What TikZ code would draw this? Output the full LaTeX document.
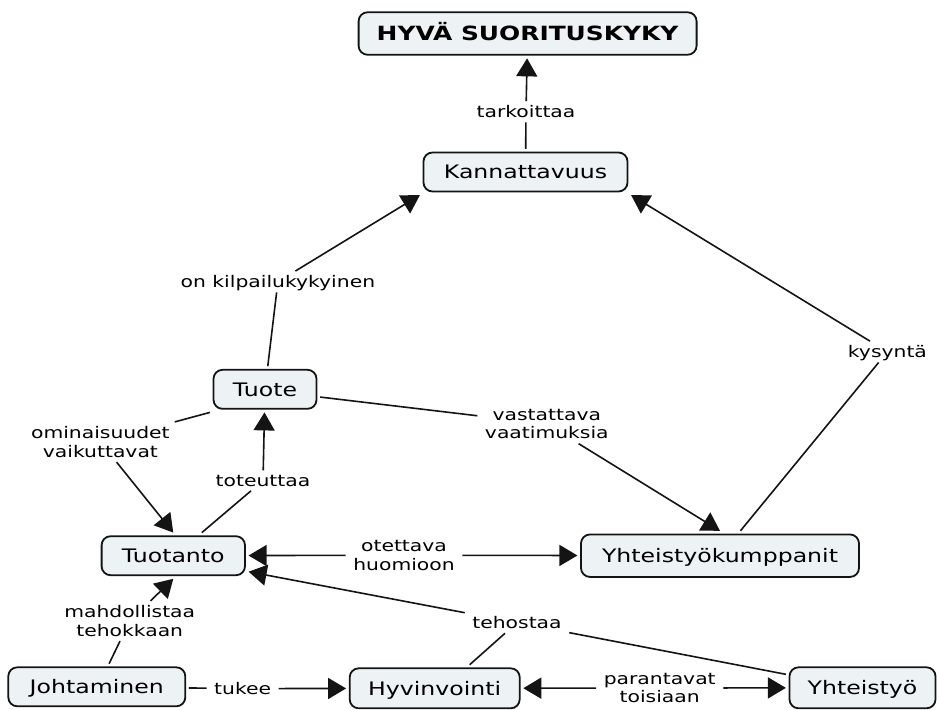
\documentclass[tikz,border=0pt]{standalone}
\usepackage{fontspec}
\setmainfont{DejaVu Sans}[FakeStretch=1.27]
\usetikzlibrary{arrows.meta,calc}
\definecolor{boxfill}{RGB}{237,243,245}
\definecolor{edgecol}{RGB}{20,20,20}
\begin{document}
\begin{tikzpicture}[x=0.5pt,y=-0.5pt,
 concept/.style={draw=edgecol, line width=0.9pt, fill=boxfill, rounded corners=4.5pt, inner sep=0pt, outer sep=1.8pt, font=\fontsize{9.3}{11}\selectfont, text height=6.8pt, text depth=0pt},
 lab/.style={inner sep=0pt, outer xsep=3.8pt, outer ysep=2.3pt, align=center, font=\fontsize{8}{9.3}\selectfont},
 lab1/.style={lab, text depth=0pt},
 link/.style={draw=edgecol, line width=0.8pt},
 arr/.style={link, -{Triangle[length=9pt,width=10.5pt]}},
]
\useasboundingbox[fill=white] (0,0) rectangle (937,709);

\node[concept, minimum width=169pt, minimum height=21.25pt, font=\bfseries\fontsize{9.8}{12}\selectfont, text height=7.1pt] (top) at (527.6,33.5) {HYVÄ SUORITUSKYKY};
\node[concept, minimum width=102pt, minimum height=19.5pt] (kan) at (525.5,172) {Kannattavuus};
\node[concept, minimum width=51.5pt, minimum height=19.5pt] (tuote) at (265,389.3) {Tuote};
\node[concept, minimum width=71.7pt, minimum height=19.5pt] (tuotanto) at (173.3,555.7) {Tuotanto};
\node[concept, minimum width=139pt, minimum height=21.25pt] (ykump) at (720,555.7) {Yhteistyökumppanit};
\node[concept, minimum width=88.5pt, minimum height=19.5pt] (joht) at (96.8,686.8) {Johtaminen};
\node[concept, minimum width=85pt, minimum height=20pt] (hyv) at (434.7,688.3) {Hyvinvointi};
\node[concept, minimum width=73pt, minimum height=20.5pt] (yht) at (862.5,687.8) {Yhteistyö};

\node[lab1] (tark) at (526,111.7) {tarkoittaa};
\node[lab1] (kilp) at (277.9,281.7) {on kilpailukykyinen};
\node[lab1] (kys) at (887.4,351.8) {kysyntä};
\node[lab] (omin) at (100.4,442) {ominaisuudet\\vaikuttavat};
\node[lab1] (tot) at (263,480.6) {toteuttaa};
\node[lab] (vast) at (546.8,424) {vastattava\\vaatimuksia};
\node[lab] (ot) at (404,555.2) {otettava\\huomioon};
\node[lab] (mahd) at (129.7,621) {mahdollistaa\\tehokkaan};
\node[lab1] (teh) at (517,622.6) {tehostaa};
\node[lab1] (tuk) at (242.6,688.6) {tukee};
\node[lab] (par) at (659.7,688) {parantavat\\toisiaan};

\draw[link] (kan) -- (tark);
\draw[arr] (tark) -- (top);
\draw[link] (tuote) -- (kilp);
\draw[arr] (kilp) -- (kan.south west);
\draw[link] (ykump) -- (kys);
\draw[arr] (kys) -- (kan.south east);
\draw[link] (tuote.south west) -- (omin);
\draw[arr] (omin) -- (tuotanto.north);
\draw[link] (tuotanto.39) -- (tot);
\draw[arr] (tot) -- (tuote);
\draw[link] (tuote.-8) -- (vast);
\draw[arr] (vast) -- (ykump.north);
\draw[arr] (ot) -- (tuotanto);
\draw[arr] (ot) -- (ykump);
\draw[link] (joht.62) -- (mahd);
\draw[arr] (mahd) -- (tuotanto.south);
\draw[link] (hyv.34) -- (teh);
\draw[link] (yht.170) -- (teh);
\draw[arr] (teh) -- (tuotanto.-12);
\draw[link] (joht) -- (tuk);
\draw[arr] (tuk) -- (hyv);
\draw[arr] (par) -- (hyv);
\draw[arr] (par) -- (yht);
\end{tikzpicture}
\end{document}
